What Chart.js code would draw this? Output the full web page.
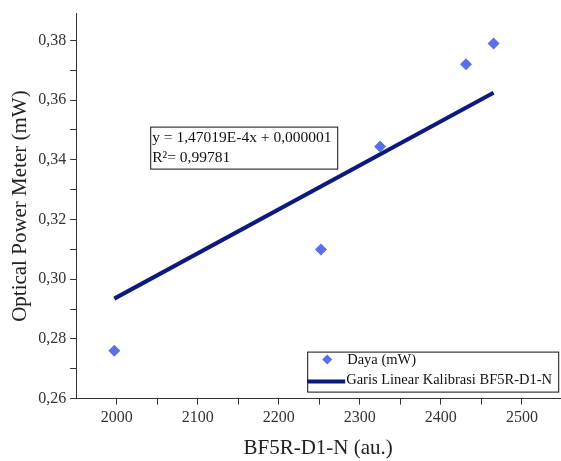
<!DOCTYPE html>
<html>
<head>
<meta charset="utf-8">
<script src="https://cdn.jsdelivr.net/npm/chart.js@4/dist/chart.umd.min.js"></script>
<style>
  html, body { margin:0; padding:0; background:#fff; overflow:hidden; }
  /* plot runs off the right edge in the original, so the canvas is a bit wider than the window */
  #wrap { width:566px; height:461px; position:relative; }
</style>
</head>
<body>
<div id="wrap"><canvas id="chart"></canvas></div>
<script>
const sensorX = [1997, 2252, 2325, 2431, 2465];
const powerY  = [0.276, 0.310, 0.3445, 0.372, 0.379];
// calibration line end points
const fitX = [1997, 2465];
const fitY = [0.2935, 0.3625];

const xMajor = [2000, 2100, 2200, 2300, 2400, 2500];
const xMinor = [2050, 2150, 2250, 2350, 2450];
const yMajor = [0.26, 0.28, 0.30, 0.32, 0.34, 0.36, 0.38];
const yMinor = [0.27, 0.29, 0.31, 0.33, 0.35, 0.37];

const eqLines = ['y = 1,47019E-4x + 0,000001', 'R\u00b2= 0,99781'];
const legendLabels = ['Daya (mW)', 'Garis Linear Kalibrasi BF5R-D1-N'];

const POINT_COLOR = '#5b6fe6';
const LINE_COLOR = '#0c1a7e';
const AXIS_COLOR = '#333';
const SERIF = '"Liberation Serif", "Times New Roman", serif';

const isMajor = (list, v) => list.some((m) => Math.abs(m - v) < 1e-9);
const comma = (v) => v.toFixed(2).replace('.', ',');

// text boxes drawn inside the plot (equation + legend)
const boxes = {
  id: 'boxes',
  afterDatasetsDraw(chart) {
    const { ctx, chartArea: a } = chart;
    ctx.save();
    ctx.fillStyle = '#111';
    ctx.strokeStyle = '#111';
    ctx.lineWidth = 1;
    ctx.textBaseline = 'middle';

    // equation box
    ctx.font = '15.5px ' + SERIF;
    const ex = a.left + 74, ey = a.top + 113;
    ctx.strokeRect(ex + 0.5, ey + 0.5, 187, 42);
    ctx.fillText(eqLines[0], ex + 2, ey + 11);
    ctx.fillText(eqLines[1], ex + 2, ey + 31);

    // legend box
    ctx.font = '14.5px ' + SERIF;
    const lx = a.left + 231, ly = a.top + 338;
    ctx.strokeRect(lx + 0.5, ly + 0.5, 251, 40);
    // diamond marker
    ctx.fillStyle = POINT_COLOR;
    ctx.beginPath();
    const dx = lx + 20, dy = ly + 8;
    ctx.moveTo(dx, dy - 5); ctx.lineTo(dx + 5, dy); ctx.lineTo(dx, dy + 5); ctx.lineTo(dx - 5, dy);
    ctx.closePath(); ctx.fill();
    // line sample
    ctx.strokeStyle = LINE_COLOR;
    ctx.lineWidth = 4;
    ctx.beginPath(); ctx.moveTo(lx, ly + 30); ctx.lineTo(lx + 38, ly + 30); ctx.stroke();
    ctx.fillStyle = '#111';
    ctx.fillText(legendLabels[0], lx + 40, ly + 9);
    ctx.fillText(legendLabels[1], lx + 39, ly + 29);
    ctx.restore();
  }
};

new Chart(document.getElementById('chart'), {
  type: 'scatter',
  data: {
    datasets: [
      {
        label: legendLabels[0],
        data: sensorX.map((x, i) => ({ x, y: powerY[i] })),
        pointStyle: 'rectRot', pointRadius: 6, pointHoverRadius: 6,
        backgroundColor: POINT_COLOR, borderColor: POINT_COLOR, borderWidth: 0,
      },
      {
        label: legendLabels[1],
        data: fitX.map((x, i) => ({ x, y: fitY[i] })),
        showLine: true, pointRadius: 0, borderColor: LINE_COLOR, borderWidth: 4,
        borderCapStyle: 'butt',
      },
    ],
  },
  options: {
    responsive: true, maintainAspectRatio: false, animation: false,
    layout: { padding: { top: 6, right: 0, left: 8, bottom: 0 } },
    plugins: { legend: { display: false }, tooltip: { enabled: false } },
    scales: {
      x: {
        type: 'linear', min: 1950, max: 2547,
        afterBuildTicks: (s) => { s.ticks = [...xMajor, ...xMinor].sort((a, b) => a - b).map((value) => ({ value })); },
        ticks: { color: AXIS_COLOR, font: { family: SERIF, size: 16 }, padding: 4,
          callback: (v) => isMajor(xMajor, v) ? String(v) : '' , maxRotation: 0, autoSkip: false },
        grid: { drawOnChartArea: false, drawTicks: true, tickLength: 6, color: AXIS_COLOR },
        border: { display: true, color: AXIS_COLOR, width: 1 },
        title: { display: true, text: 'BF5R-D1-N (au.)', color: '#222', font: { family: SERIF, size: 21 }, padding: { top: 4, bottom: 0 } },
      },
      y: {
        type: 'linear', min: 0.26, max: 0.389,
        afterBuildTicks: (s) => { s.ticks = [...yMajor, ...yMinor].sort((a, b) => a - b).map((value) => ({ value })); },
        ticks: { color: AXIS_COLOR, font: { family: SERIF, size: 16 }, padding: 4,
          callback: (v) => isMajor(yMajor, v) ? comma(v) : '', autoSkip: false },
        grid: { drawOnChartArea: false, drawTicks: true, tickLength: 6, color: AXIS_COLOR },
        border: { display: true, color: AXIS_COLOR, width: 1 },
        title: { display: true, text: 'Optical Power Meter (mW)', color: '#222', font: { family: SERIF, size: 21 }, padding: { top: 0, bottom: 1 } },
      },
    },
  },
  plugins: [boxes],
});
</script>
</body>
</html>
